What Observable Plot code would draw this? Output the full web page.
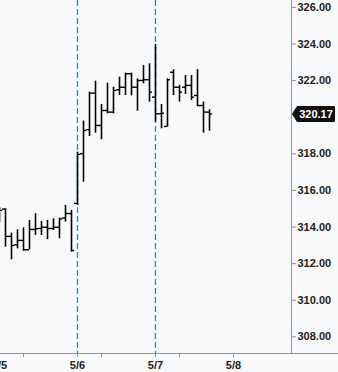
<!DOCTYPE html>
<html>
<head>
<meta charset="utf-8">
<script src="https://cdn.jsdelivr.net/npm/d3@7"></script>
<script src="https://cdn.jsdelivr.net/npm/@observablehq/plot@0.6"></script>
<style>
  body { margin: 0; background: #f8f9fa; }
  #chart svg { display: block; }
</style>
</head>
<body>
<div id="chart"></div>
<script>
// 30-minute OHLC bars, 13 per session (5/5 close through 5/7 afternoon)
const opens = [
  314.63, 314.98, 313.49, 313.03, 313.27, 312.76, 313.87, 313.92, 313.99, 313.92, 313.99, 314.49, 314.74,
  315.29, 318.01, 319.32, 321.32, 319.55, 320.37, 320.28, 321.50, 321.64, 322.38, 321.64, 322.01, 322.05,
  321.10, 320.19, 319.50, 322.46, 321.64, 321.64, 321.74, 321.19, 320.64, 320.28
];
const highs = [
  315.07, 315.00, 313.67, 313.85, 313.96, 314.36, 314.73, 314.31, 314.36, 314.45, 314.49, 315.18, 314.91,
  318.09, 319.79, 321.37, 321.97, 320.70, 321.86, 321.64, 322.19, 322.41, 322.41, 322.10, 322.83, 322.92,
  323.98, 320.70, 322.10, 322.60, 321.74, 322.28, 322.28, 322.60, 320.83, 320.41
];
const lows = [
  314.25, 312.90, 312.21, 312.81, 312.68, 312.76, 313.54, 313.54, 313.31, 313.81, 313.36, 314.27, 312.63,
  315.18, 316.45, 318.95, 319.13, 318.77, 320.19, 320.19, 321.19, 321.19, 321.17, 320.33, 321.83, 320.83,
  319.73, 319.37, 319.46, 321.19, 320.83, 321.25, 320.92, 320.59, 319.13, 319.24
];
const closes = [
  314.91, 313.49, 312.99, 313.27, 312.76, 313.87, 313.91, 313.99, 313.92, 313.99, 314.44, 314.74, 312.72,
  317.97, 319.28, 321.32, 319.55, 320.37, 320.28, 321.46, 321.64, 322.38, 321.64, 322.01, 322.05, 321.37,
  320.19, 320.22, 322.05, 321.64, 321.37, 321.74, 321.10, 320.64, 320.28, 320.17
];

// Session boundaries (bar index) and their labels
const dayStarts = [0, 13, 26, 39];
const dayLabels = ["5/5", "5/6", "5/7", "5/8"];
const minorTicks = [4, 17, 30];
const sessionLines = [13, 26];
// 320.00 sits under the last-price flag, so it is left out
const priceTicks = [308, 310, 312, 314, 316, 318, 322, 324, 326];

const bars = opens.map((o, i) => ({i, open: o, high: highs[i], low: lows[i], close: closes[i]}));
const last = bars[bars.length - 1];

const W = 338, H = 372;
const xDomain = [1 / 6, 292 / 6];
const yDomain = [307.09, 326.38];
const axisColor = "#8e939a";

// Small unlabeled ticks inside each session
function minorTickMarks(index, scales) {
  const g = d3.create("svg:g").attr("stroke", axisColor);
  const y0 = scales.y(yDomain[0]);
  for (const t of minorTicks) {
    const x = Math.round(scales.x(t)) + 0.5;
    g.append("line").attr("x1", x).attr("x2", x).attr("y1", y0).attr("y2", y0 + 4);
  }
  return g.node();
}

// Black price flag pointing at the last close on the right axis
function lastPriceFlag(index, scales) {
  const y = Math.round(scales.y(last.close));
  const x0 = scales.x(xDomain[1]) + 1;
  const g = d3.create("svg:g");
  g.append("path")
    .attr("d", `M${x0},${y} L${x0 + 5},${y - 8} L${x0 + 42},${y - 8} Q${x0 + 43},${y - 8} ${x0 + 43},${y - 7} L${x0 + 43},${y + 7} Q${x0 + 43},${y + 8} ${x0 + 42},${y + 8} L${x0 + 5},${y + 8} Z`)
    .attr("fill", "#111");
  g.append("text")
    .attr("x", x0 + 24).attr("y", y).attr("dy", "0.36em")
    .attr("text-anchor", "middle").attr("fill", "#fff")
    .attr("font-weight", "bold").attr("font-size", 11)
    .text(last.close.toFixed(2));
  return g.node();
}

const chart = Plot.plot({
  width: W,
  height: H,
  marginLeft: 0,
  marginRight: W - 291,
  marginTop: 0,
  marginBottom: 19,
  style: {
    background: "#f8f9fa",
    fontFamily: "'Liberation Sans', Arial, sans-serif",
    fontSize: "11px",
    fontWeight: "bold",
    color: "#222"
  },
  x: {type: "linear", domain: xDomain},
  y: {type: "linear", domain: yDomain},
  marks: [
    // session separators
    Plot.ruleX(sessionLines, {x: d => d, stroke: "#1693b8", strokeWidth: 1.3, strokeDasharray: "6,3"}),
    // high-low range
    Plot.ruleX(bars, {x: "i", y1: "low", y2: "high", stroke: "#000", strokeWidth: 1.6}),
    // open tick (left) and close tick (right)
    Plot.ruleY(bars, {y: "open", x1: d => d.i - 0.5, x2: "i", stroke: "#000", strokeWidth: 1.4}),
    Plot.ruleY(bars, {y: "close", x1: "i", x2: d => d.i + 0.5, stroke: "#000", strokeWidth: 1.4}),
    // axis frame lines
    Plot.ruleX([xDomain[1]], {x: d => d, stroke: axisColor, strokeWidth: 1}),
    Plot.ruleY([yDomain[0]], {y: d => d, x1: xDomain[0] - 1, x2: 56.5, stroke: axisColor, strokeWidth: 1}),
    Plot.axisY({
      anchor: "right",
      ticks: priceTicks,
      tickFormat: d => d.toFixed(2),
      tickSize: 4,
      tickPadding: 2,
      stroke: axisColor,
      fill: "#222",
      label: null
    }),
    Plot.axisX({
      anchor: "bottom",
      ticks: dayStarts,
      tickFormat: d => dayLabels[dayStarts.indexOf(d)],
      tickSize: 4,
      tickPadding: 4,
      stroke: axisColor,
      fill: "#222",
      label: null
    }),
    minorTickMarks,
    lastPriceFlag
  ]
});

document.getElementById("chart").appendChild(chart);
</script>
</body>
</html>
